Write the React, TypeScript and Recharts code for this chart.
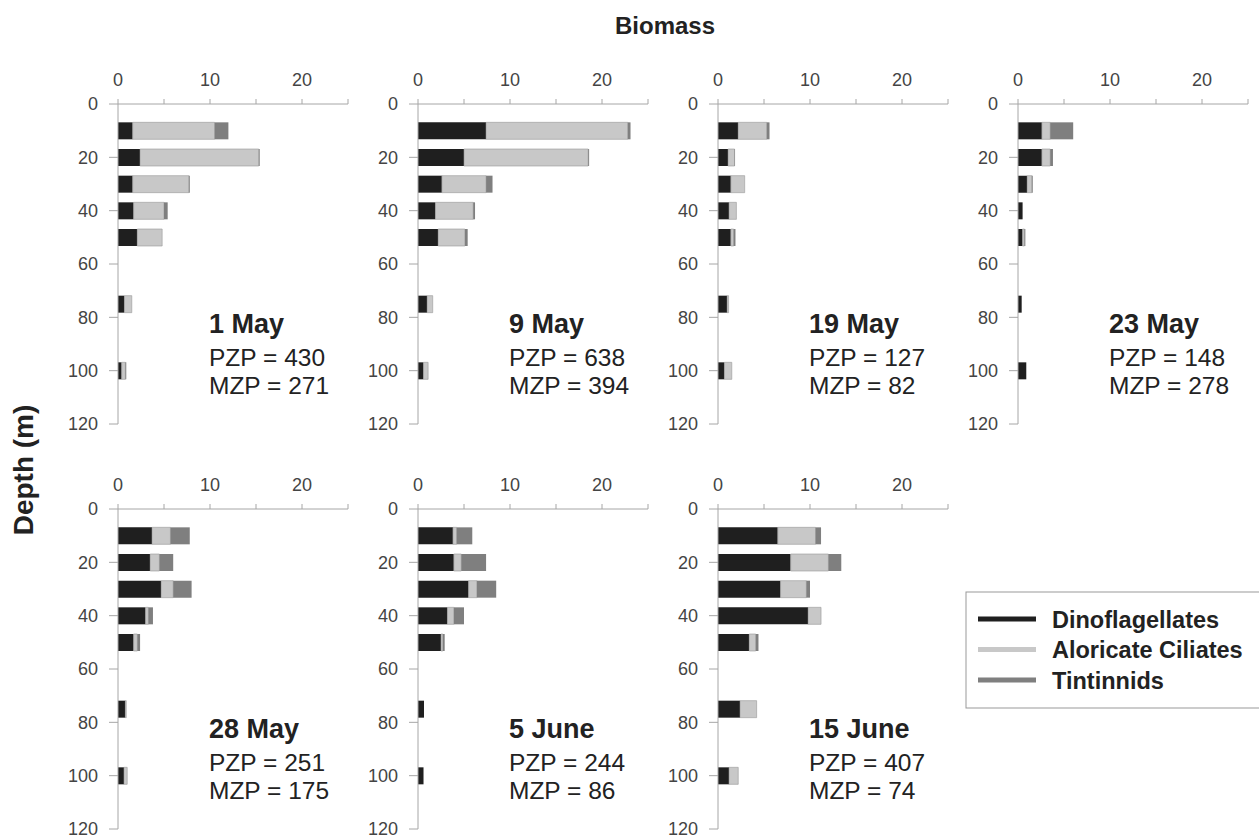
import { Bar, BarChart, XAxis, YAxis } from "recharts";

const depths = [10, 20, 30, 40, 50, 75, 100];
const dates = ["1 May", "9 May", "19 May", "23 May", "28 May", "5 June", "15 June"];
const pzp = [430, 638, 127, 148, 251, 244, 407];
const mzp = [271, 394, 82, 278, 175, 86, 74];

// one row per sampling date, one value per depth
const dinoflagellates = [
  [1.6, 2.4, 1.6, 1.7, 2.1, 0.7, 0.4],
  [7.4, 5.0, 2.6, 1.9, 2.2, 1.0, 0.6],
  [2.2, 1.1, 1.4, 1.2, 1.4, 1.0, 0.7],
  [2.6, 2.6, 1.0, 0.5, 0.5, 0.4, 0.9],
  [3.7, 3.5, 4.7, 3.0, 1.7, 0.8, 0.65],
  [3.8, 3.9, 5.5, 3.2, 2.5, 0.65, 0.6],
  [6.5, 7.9, 6.8, 9.8, 3.4, 2.4, 1.2]
];
const aloricateCiliates = [
  [8.9, 12.9, 6.1, 3.3, 2.7, 0.8, 0.4],
  [15.4, 13.5, 4.8, 4.1, 2.9, 0.6, 0.5],
  [3.1, 0.7, 1.5, 0.8, 0.3, 0.15, 0.8],
  [0.9, 0.9, 0.5, 0, 0.2, 0, 0],
  [2.0, 1.0, 1.3, 0.3, 0.4, 0.1, 0.35],
  [0.4, 0.8, 0.9, 0.7, 0.2, 0, 0],
  [4.1, 4.1, 2.8, 1.4, 0.7, 1.8, 1.0]
];
const tintinnids = [
  [1.5, 0.1, 0.1, 0.4, 0, 0, 0.1],
  [0.3, 0.1, 0.7, 0.2, 0.3, 0, 0],
  [0.3, 0.05, 0, 0, 0.2, 0, 0],
  [2.5, 0.3, 0.1, 0, 0.1, 0, 0],
  [2.1, 1.5, 2.0, 0.5, 0.3, 0, 0],
  [1.7, 2.7, 2.1, 1.1, 0.2, 0, 0],
  [0.6, 1.4, 0.4, 0, 0.3, 0, 0]
];

const xTicks = [0, 5, 10, 15, 20, 25];
const depthTicks = [0, 20, 40, 60, 80, 100, 120];

const font = "'Liberation Sans', Arial, sans-serif";
const colors = { dino: "#1f1f1f", alor: "#c8c8c8", tint: "#7f7f7f" };
const axisColor = "#a6a6a6";

const legendItems = [
  { name: "Dinoflagellates", color: colors.dino },
  { name: "Aloricate Ciliates", color: colors.alor },
  { name: "Tintinnids", color: colors.tint }
];

function panelOrigin(i: number) {
  const col = i < 4 ? i : i - 4;
  return { x0: 118 + col * 300, y0: i < 4 ? 104 : 509 };
}

function Panel({ index }: { index: number }) {
  const { x0, y0 } = panelOrigin(index);
  const data = depths.map((depth, j) => ({
    depth,
    dino: dinoflagellates[index][j],
    alor: aloricateCiliates[index][j],
    tint: tintinnids[index][j]
  }));
  return (
    <div style={{ position: "absolute", left: x0 - 60, top: y0 - 44 }}>
      <BarChart
        width={300}
        height={376}
        data={data}
        layout="vertical"
        margin={{ top: 0, right: 10, bottom: 12, left: 0 }}
      >
        <XAxis
          type="number"
          orientation="top"
          domain={[0, 25]}
          ticks={xTicks}
          interval={0}
          tickFormatter={(v: number) => (v % 10 === 0 && v < 25 ? String(v) : "")}
          height={44}
          tickSize={5}
          tickMargin={13}
          stroke={axisColor}
          tick={{ fill: "#444", fontSize: 18, fontFamily: font }}
        />
        <YAxis
          type="number"
          dataKey="depth"
          domain={[0, 120]}
          ticks={depthTicks}
          interval={0}
          width={60}
          tickSize={9}
          tickMargin={11}
          stroke={axisColor}
          tick={{ fill: "#444", fontSize: 18, fontFamily: font }}
        />
        <Bar dataKey="dino" stackId="a" fill={colors.dino} barSize={17} isAnimationActive={false} />
        <Bar
          dataKey="alor"
          stackId="a"
          fill={colors.alor}
          stroke="#999"
          strokeWidth={0.6}
          barSize={17}
          isAnimationActive={false}
        />
        <Bar dataKey="tint" stackId="a" fill={colors.tint} barSize={17} isAnimationActive={false} />
      </BarChart>
    </div>
  );
}

export default function App() {
  return (
    <div
      style={{
        position: "absolute",
        left: 0,
        top: 0,
        width: 1259,
        height: 837,
        overflow: "hidden",
        background: "#fff",
        fontFamily: font
      }}
    >
      {dates.map((d, i) => (
        <Panel key={d} index={i} />
      ))}
      <svg
        width={1259}
        height={837}
        style={{ position: "absolute", left: 0, top: 0, pointerEvents: "none" }}
        fontFamily={font}
      >
        <text x={615} y={34} fontSize={24} fontWeight="bold" fill="#222">
          Biomass
        </text>
        <text
          x={0}
          y={0}
          transform="translate(33 470) rotate(-90)"
          textAnchor="middle"
          fontSize={28}
          fontWeight="bold"
          fill="#222"
        >
          Depth (m)
        </text>
        {dates.map((d, i) => {
          const { x0, y0 } = panelOrigin(i);
          return (
            <g key={d} fill="#222">
              <text x={x0 + 91} y={y0 + 229} fontSize={27} fontWeight="bold">
                {d}
              </text>
              <text x={x0 + 91} y={y0 + 262} fontSize={24.5}>
                PZP = {pzp[i]}
              </text>
              <text x={x0 + 91} y={y0 + 290} fontSize={24.5}>
                MZP = {mzp[i]}
              </text>
            </g>
          );
        })}
        <rect x={966} y={592} width={320} height={116} fill="none" stroke="#999" strokeWidth={1} />
        {legendItems.map((item, k) => {
          const ly = 619 + k * 30.5;
          return (
            <g key={item.name}>
              <line x1={978} x2={1036} y1={ly} y2={ly} stroke={item.color} strokeWidth={5} />
              <text x={1052} y={ly + 8.5} fontSize={23.5} fontWeight="bold" fill="#222">
                {item.name}
              </text>
            </g>
          );
        })}
      </svg>
    </div>
  );
}
